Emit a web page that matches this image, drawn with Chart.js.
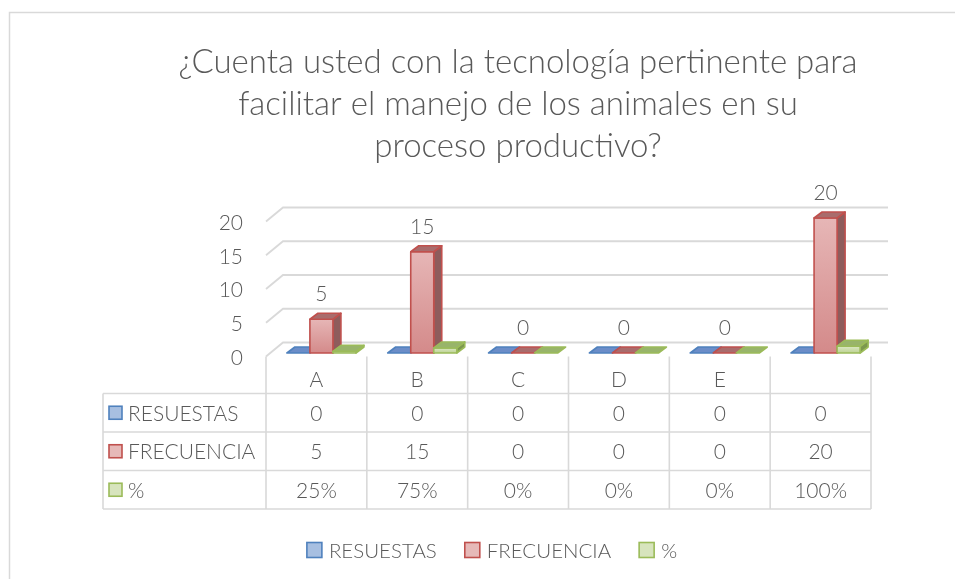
<!DOCTYPE html>
<html>
<head>
<meta charset="utf-8">
<script src="https://cdn.jsdelivr.net/npm/chart.js@4.4.1/dist/chart.umd.min.js"></script>
<style>
  html, body { margin: 0; padding: 0; background: #fff; }
  canvas { display: block; }
</style>
</head>
<body>
<canvas id="myChart" width="955" height="579"></canvas>
<script>
// chart data
const titleLines = ["¿Cuenta usted con la tecnología pertinente para", "facilitar el manejo de los animales en su", "proceso productivo?"];
const categories = ["A", "B", "C", "D", "E", ""];
const seriesNames = ["RESUESTAS", "FRECUENCIA", "%"];
const resuestas = [0, 0, 0, 0, 0, 0];
const frecuencia = [5, 15, 0, 0, 0, 20];
const porcentaje = [0.25, 0.75, 0, 0, 0, 1];
const porcentajeLabels = ["25%", "75%", "0%", "0%", "0%", "100%"];
const yTicks = [0, 5, 10, 15, 20];

const textColor = '#595959';
const lineColor = '#d9d9d9';
const fontFamily = 'Lato, "Open Sans", sans-serif';

// fill / border colours per series (Excel office palette)
const styles = [
  { front: ['#b3c7e6', '#8eabd9'], side: '#5f7fb5', top: '#6b8dc8', border: '#4f81bd', key: '#a7bfe1' },
  { front: ['#e6b6b6', '#d48a8a'], side: '#8e5c5c', top: '#a96c6c', border: '#c0504d', key: '#e6b9b8' },
  { front: ['#dbe8c3', '#bdd292'], side: '#7c984f', top: '#98b46a', border: '#9bbb59', key: '#d7e4bd' }
];

// 3D offsets (pixels) relative to the bar plane
const barDepth = { dx: 8, dy: -6 };
const frontShift = { dx: -5, dy: 3.5 };
const backShift = { dx: 12, dy: -10.5 };

function drawBox(ctx, l, r, top, bottom, st) {
  const { dx, dy } = barDepth;
  ctx.lineWidth = 1.6;
  ctx.lineJoin = 'round';
  ctx.strokeStyle = st.border;
  if (bottom - top > 0.5) {
    // side face
    ctx.beginPath();
    ctx.moveTo(r, top); ctx.lineTo(r + dx, top + dy); ctx.lineTo(r + dx, bottom + dy); ctx.lineTo(r, bottom);
    ctx.closePath();
    ctx.fillStyle = st.side; ctx.fill(); ctx.stroke();
    // front face
    const g = ctx.createLinearGradient(0, top, 0, bottom);
    g.addColorStop(0, st.front[0]);
    g.addColorStop(1, st.front[1]);
    ctx.fillStyle = g;
    ctx.fillRect(l, top, r - l, bottom - top);
    ctx.strokeRect(l, top, r - l, bottom - top);
  }
  // top face
  ctx.beginPath();
  ctx.moveTo(l, top); ctx.lineTo(r, top); ctx.lineTo(r + dx, top + dy); ctx.lineTo(l + dx, top + dy);
  ctx.closePath();
  ctx.fillStyle = st.top; ctx.fill(); ctx.stroke();
}

function keyBox(ctx, x, yc, size, st) {
  ctx.fillStyle = st.key;
  ctx.fillRect(x, yc - size / 2, size, size);
  ctx.strokeStyle = st.border;
  ctx.lineWidth = 1.6;
  ctx.strokeRect(x, yc - size / 2, size, size);
}

const threeD = {
  id: 'threeD',
  beforeDraw(chart) {
    const { ctx, width, height } = chart;
    ctx.save();
    ctx.fillStyle = '#fff';
    ctx.fillRect(0, 0, width, height);
    ctx.strokeStyle = lineColor;
    ctx.lineWidth = 1.5;
    ctx.strokeRect(9.5, 12.5, width + 20, height + 20);
    ctx.restore();
  },
  beforeDatasetsDraw(chart) {
    const { ctx, chartArea, scales: { x, y } } = chart;
    ctx.save();
    // back wall gridlines with left side wall diagonals
    ctx.strokeStyle = lineColor;
    ctx.lineWidth = 1.8;
    yTicks.forEach(v => {
      const py = y.getPixelForValue(v);
      ctx.beginPath();
      ctx.moveTo(chartArea.left + frontShift.dx, py + frontShift.dy);
      ctx.lineTo(chartArea.left + backShift.dx, py + backShift.dy);
      ctx.lineTo(chartArea.right + backShift.dx, py + backShift.dy);
      ctx.stroke();
    });
    // 3D columns, left to right
    categories.forEach((c, i) => {
      chart.data.datasets.forEach((ds, d) => {
        const el = chart.getDatasetMeta(d).data[i];
        const l = el.x - el.width / 2, r = el.x + el.width / 2;
        drawBox(ctx, l, r, Math.min(el.y, el.base), el.base, styles[d]);
      });
    });
    // data labels on FRECUENCIA
    ctx.fillStyle = textColor;
    ctx.font = '300 21px ' + fontFamily;
    ctx.textAlign = 'center';
    ctx.textBaseline = 'middle';
    chart.getDatasetMeta(1).data.forEach((el, i) => {
      ctx.fillText(String(frecuencia[i]), el.x, el.y - 25);
    });
    ctx.restore();
    return false;
  },
  afterDraw(chart) {
    const { ctx, scales: { x, y } } = chart;
    ctx.save();
    const n = categories.length;
    const cw = x.width / n;
    const colX = i => x.left + frontShift.dx + i * cw;
    const headTop = y.getPixelForValue(0) + frontShift.dy;
    const rows = [headTop, headTop + 37, headTop + 75.5, headTop + 114, headTop + 152.5];
    const tableLeft = 103;

    ctx.strokeStyle = lineColor;
    ctx.lineWidth = 1.6;
    ctx.beginPath();
    for (let k = 1; k < rows.length; k++) {
      ctx.moveTo(tableLeft, rows[k]); ctx.lineTo(colX(n), rows[k]);
    }
    ctx.moveTo(tableLeft, rows[1]); ctx.lineTo(tableLeft, rows[4]);
    for (let i = 0; i <= n; i++) {
      ctx.moveTo(colX(i), rows[0]); ctx.lineTo(colX(i), rows[4]);
    }
    ctx.stroke();

    ctx.fillStyle = textColor;
    ctx.font = '300 21px ' + fontFamily;
    ctx.textBaseline = 'middle';
    ctx.textAlign = 'center';
    categories.forEach((c, i) => ctx.fillText(c, colX(i) + cw / 2, rows[0] + 24));

    const rowValues = [resuestas.map(String), frecuencia.map(String), porcentajeLabels];
    rowValues.forEach((vals, k) => {
      const yc = (rows[k + 1] + rows[k + 2]) / 2;
      ctx.textAlign = 'center';
      ctx.fillStyle = textColor;
      vals.forEach((v, i) => ctx.fillText(v, colX(i) + cw / 2, yc + 1));
      keyBox(ctx, 109, yc, 13, styles[k]);
      ctx.textAlign = 'left';
      ctx.fillStyle = textColor;
      ctx.fillText(seriesNames[k], 128, yc + 1);
    });

    // legend below the table
    ctx.font = '300 20.5px ' + fontFamily;
    const box = 15, gap = 7, itemGap = 28, legendY = 550;
    const widths = seriesNames.map(s => box + gap + ctx.measureText(s).width);
    const total = widths.reduce((a, b) => a + b, 0) + itemGap * (widths.length - 1);
    let lx = 492 - total / 2;
    seriesNames.forEach((s, k) => {
      keyBox(ctx, lx, legendY, box, styles[k]);
      ctx.fillStyle = textColor;
      ctx.textAlign = 'left';
      ctx.fillText(s, lx + box + gap, legendY + 1);
      lx += widths[k] + itemGap;
    });
    ctx.restore();
  }
};

new Chart(document.getElementById('myChart').getContext('2d'), {
  type: 'bar',
  data: {
    labels: categories,
    datasets: [
      { label: seriesNames[0], data: resuestas, backgroundColor: styles[0].key, borderColor: styles[0].border },
      { label: seriesNames[1], data: frecuencia, backgroundColor: styles[1].key, borderColor: styles[1].border },
      { label: seriesNames[2], data: porcentaje, backgroundColor: styles[2].key, borderColor: styles[2].border }
    ]
  },
  options: {
    responsive: false,
    animation: false,
    layout: { padding: { left: 160, right: 79, top: 0, bottom: 0 } },
    datasets: { bar: { categoryPercentage: 0.685, barPercentage: 1 } },
    plugins: {
      legend: { display: false },
      tooltip: { enabled: false },
      title: {
        display: true,
        text: titleLines,
        color: textColor,
        font: { family: fontFamily, size: 33, weight: 300, lineHeight: 42 / 33 },
        padding: { top: 41, bottom: 51 }
      }
    },
    scales: {
      x: {
        grid: { display: false },
        border: { display: false },
        ticks: { display: false },
        afterFit(s) { s.height = 226; }
      },
      y: {
        min: 0,
        max: 20,
        ticks: { stepSize: 5, padding: 28, labelOffset: 5, color: textColor, font: { family: fontFamily, size: 21, weight: 300 } },
        grid: { display: false, drawTicks: false },
        border: { display: false },
        afterFit(s) { s.width = 111; }
      }
    }
  },
  plugins: [threeD]
});
</script>
</body>
</html>
